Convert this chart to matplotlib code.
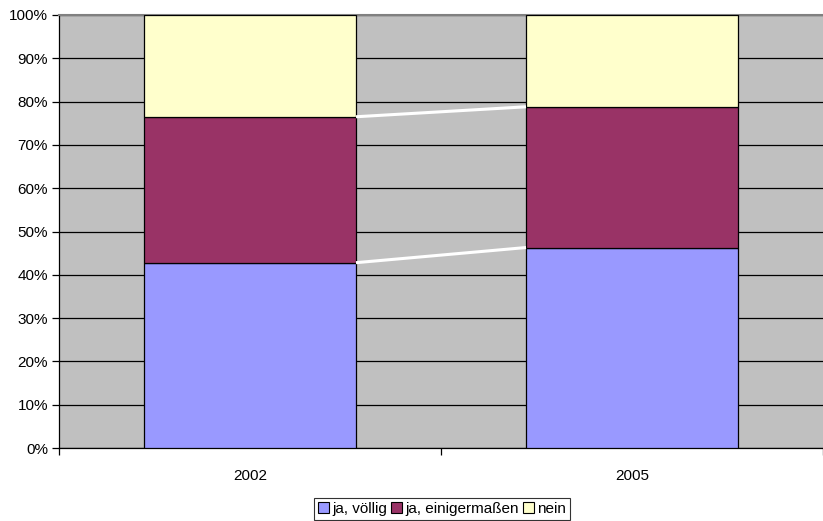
import matplotlib
matplotlib.use("Agg")
import matplotlib.pyplot as plt
from matplotlib.patches import Patch
from matplotlib.ticker import FuncFormatter, MultipleLocator

plt.rcParams['font.family'] = ['Liberation Sans', 'DejaVu Sans']

years = ["2002", "2005"]
series_names = ["ja, völlig", "ja, einigermaßen", "nein"]
voellig = [42.8, 46.3]
einigermassen = [33.7, 32.5]
nein = [23.5, 21.2]
colors = ["#9999FF", "#993366", "#FFFFCC"]

fig = plt.figure(figsize=(8.23, 5.21), dpi=100)
ax = fig.add_axes([59/823, (521-448)/521, (823-59)/823, (448-15)/521])
ax.set_facecolor("#C0C0C0")

x = list(range(len(years)))
width = 0.555
bottoms = [0.0] * len(years)
handles = []
for vals, name, col in zip([voellig, einigermassen, nein], series_names, colors):
    ax.bar(x, vals, width, bottom=bottoms, color=col, edgecolor="black", linewidth=0.9, zorder=3)
    bottoms = [b + v for b, v in zip(bottoms, vals)]
    handles.append(Patch(facecolor=col, edgecolor="black", linewidth=0.8, label=name))

# series connecting lines
cum1 = voellig
cum2 = [a + b for a, b in zip(voellig, einigermassen)]
for cum in (cum1, cum2):
    ax.plot([x[0] + width/2, x[1] - width/2], [cum[0], cum[1]], color="white", lw=2.2, zorder=4, solid_capstyle="butt")

ax.set_xlim(-0.5, 1.5)
ax.set_ylim(0, 100)
ax.yaxis.set_major_locator(MultipleLocator(10))
ax.yaxis.set_major_formatter(FuncFormatter(lambda v, p: f"{int(round(v))}%"))
ax.grid(axis="y", color="black", linewidth=0.9, zorder=1)
ax.set_axisbelow(True)

ax.set_xticks([-0.5, 0.5, 1.5])
ax.set_xticklabels([])
ax.set_xticks(x, minor=True)
ax.set_xticklabels(years, minor=True)
ax.tick_params(axis="x", which="minor", length=0, pad=15, labelsize=11)
ax.tick_params(axis="x", which="major", length=5, width=0.9, direction="out")
ax.tick_params(axis="y", length=5, width=0.9, direction="out", labelsize=11, pad=3)

for s in ["left", "bottom"]:
    ax.spines[s].set_color("black")
    ax.spines[s].set_linewidth(0.9)
ax.spines["top"].set_color("#808080")
ax.spines["top"].set_linewidth(1.5)
ax.spines["right"].set_visible(False)

leg = fig.legend(handles=handles, loc="center", bbox_to_anchor=(442/823, 1 - 509/521),
                 ncol=3, fontsize=11, frameon=True, fancybox=False, edgecolor="black",
                 handlelength=0.7, handleheight=0.7, handletextpad=0.2, columnspacing=0.3,
                 borderpad=0.25, borderaxespad=0)
leg.get_frame().set_linewidth(0.8)

fig.savefig("out.png", dpi=100)
